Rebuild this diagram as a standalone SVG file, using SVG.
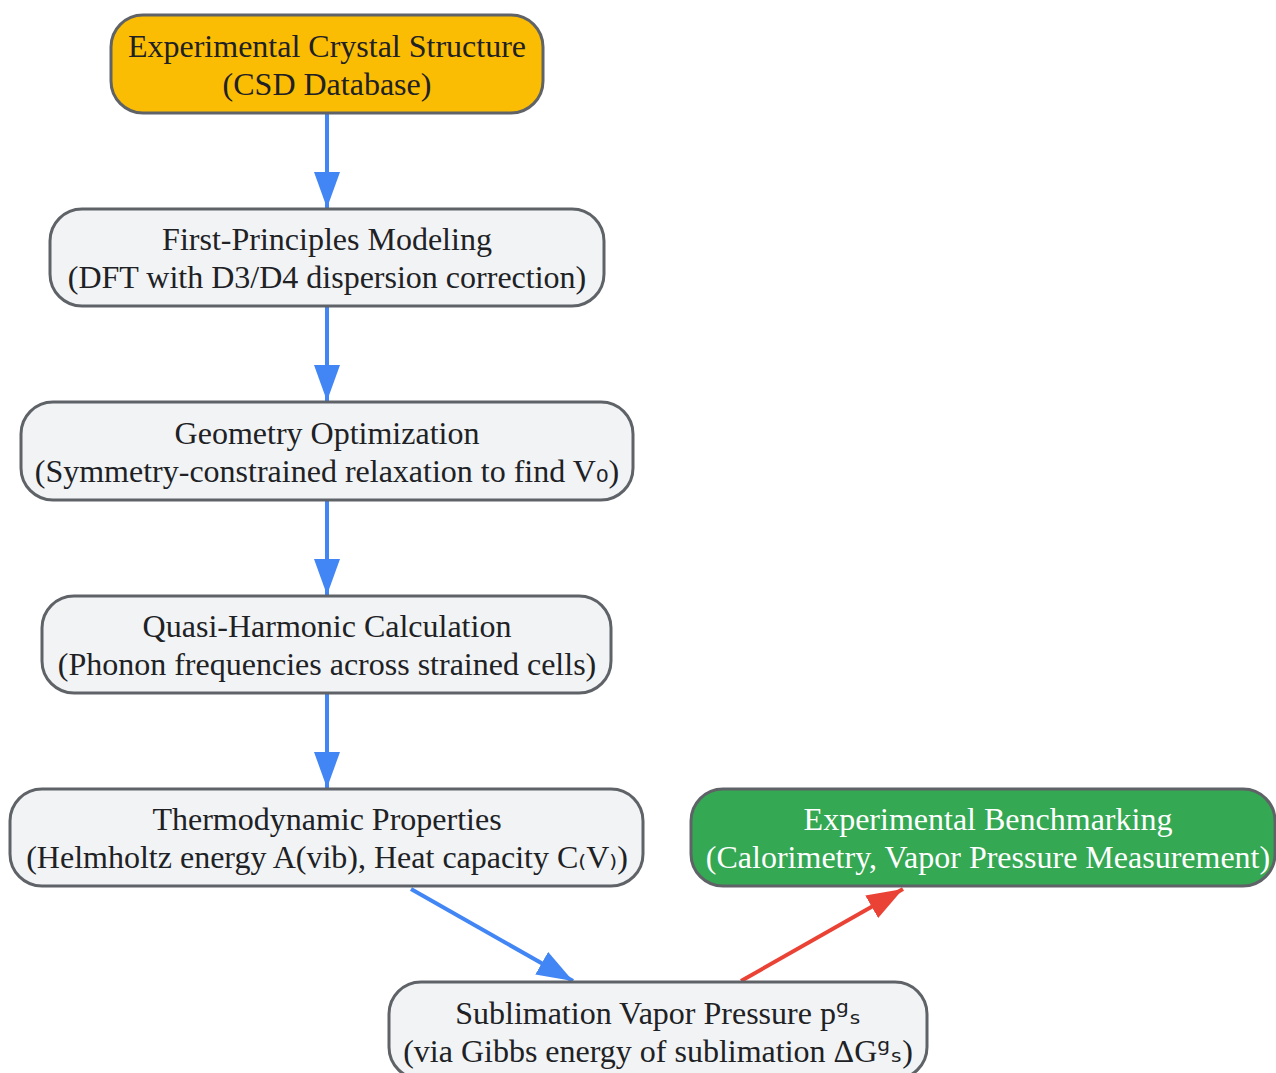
<svg xmlns="http://www.w3.org/2000/svg" width="1276" height="1073" viewBox="0 0 1276 1073">
<defs>
<marker id="ab" markerUnits="userSpaceOnUse" markerWidth="36" markerHeight="26" refX="36" refY="13" orient="auto"><path d="M0,0 L36,13 L0,26 z" fill="#4285F4"/></marker>
<marker id="ar" markerUnits="userSpaceOnUse" markerWidth="36" markerHeight="26" refX="36" refY="13" orient="auto"><path d="M0,0 L36,13 L0,26 z" fill="#EA4335"/></marker>
</defs>
<style>
.n{fill:#F1F3F4;stroke:#5F6368;stroke-width:3}
.y{fill:#FBBC04}
.g{fill:#34A853}
text{font-family:"Liberation Serif","Times New Roman",serif;font-size:32px;fill:#202124;text-anchor:middle}
.s{font-family:"DejaVu Sans",sans-serif}
.w{fill:#FFFFFF}
.eb{stroke:#4285F4;stroke-width:4;fill:none;marker-end:url(#ab)}
.er{stroke:#EA4335;stroke-width:4;fill:none;marker-end:url(#ar)}
</style>
<rect width="1276" height="1073" fill="#FFFFFF"/>
<g id="edges">
<line class="eb" x1="327" y1="113" x2="327" y2="208"/>
<line class="eb" x1="327" y1="306" x2="327" y2="401"/>
<line class="eb" x1="327" y1="500" x2="327" y2="595"/>
<line class="eb" x1="327" y1="693" x2="327" y2="788"/>
<line class="eb" x1="411" y1="889" x2="573" y2="981"/>
<line class="er" x1="741" y1="981" x2="903" y2="889"/>
</g>
<g id="n1">
<rect class="n y" x="111" y="15" width="432" height="98" rx="32"/>
<text x="327" y="57">Experimental Crystal Structure</text>
<text x="327" y="95">(CSD Database)</text>
</g>
<g id="n2">
<rect class="n" x="50" y="209" width="554" height="97" rx="32"/>
<text x="327" y="250">First-Principles Modeling</text>
<text x="327" y="288">(DFT with D3/D4 dispersion correction)</text>
</g>
<g id="n3">
<rect class="n" x="21" y="402" width="612" height="98" rx="32"/>
<text x="327" y="444">Geometry Optimization</text>
<text x="327" y="482">(Symmetry-constrained relaxation to find V<tspan class="s">₀</tspan>)</text>
</g>
<g id="n4">
<rect class="n" x="42" y="596" width="569" height="97" rx="32"/>
<text x="327" y="637">Quasi-Harmonic Calculation</text>
<text x="327" y="675">(Phonon frequencies across strained cells)</text>
</g>
<g id="n5">
<rect class="n" x="10" y="789" width="633" height="97" rx="32"/>
<text x="327" y="830">Thermodynamic Properties</text>
<text x="327" y="868">(Helmholtz energy A(vib), Heat capacity C<tspan class="s">₍</tspan>V<tspan class="s">₎</tspan>)</text>
</g>
<g id="n6">
<rect class="n g" x="691" y="789" width="584" height="97" rx="32"/>
<text class="w" x="988" y="830">Experimental Benchmarking</text>
<text class="w" x="988" y="868">(Calorimetry, Vapor Pressure Measurement)</text>
</g>
<g id="n7">
<rect class="n" x="389" y="982" width="538" height="97" rx="32"/>
<text x="658" y="1024">Sublimation Vapor Pressure p<tspan class="s">ᵍₛ</tspan></text>
<text x="658" y="1062">(via Gibbs energy of sublimation ΔG<tspan class="s">ᵍₛ</tspan>)</text>
</g>
</svg>
